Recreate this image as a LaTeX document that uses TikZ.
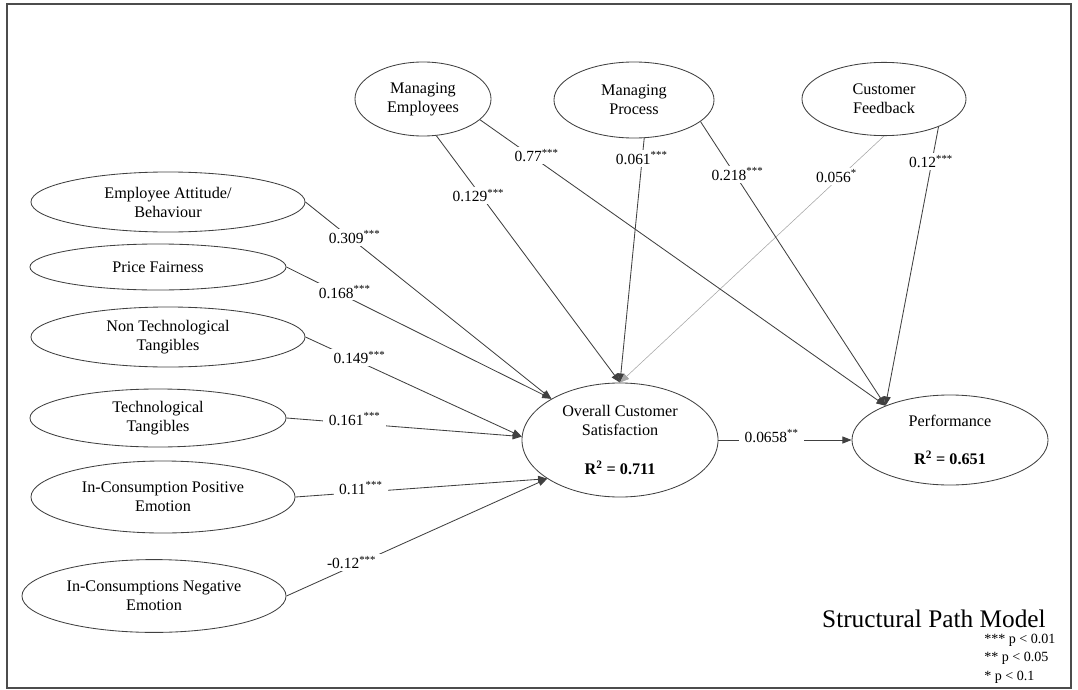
\documentclass[tikz,border=0pt]{standalone}
\usepackage{fontspec}
\setmainfont{Liberation Serif}
\usetikzlibrary{arrows.meta,shapes.geometric}

\begin{document}
\begin{tikzpicture}[
  x=0.025cm, y=-0.025cm,
  latent/.style={ellipse, draw=black!75, line width=0.6pt, inner sep=0pt,
    font=\fontsize{11.5}{13.5}\selectfont, align=center},
  coef/.style={fill=white, inner xsep=4pt, inner ysep=1.5pt, yshift=3pt,
    font=\fontsize{11}{13}\selectfont},
  effect/.style={-{Triangle[length=6.5pt,width=5pt]}, draw=black!75, line width=0.6pt},
  weak/.style={effect, draw=black!35, line width=0.4pt}
]
  \useasboundingbox (0,0) rectangle (1078,690);
  \draw[line width=0.8pt, black!70] (7,4) rectangle (1071,688);

  % Latent constructs
  \node[latent, minimum width=3.4cm, minimum height=1.85cm] (me) at (423,99) {Managing\\Employees};
  \node[latent, minimum width=4cm, minimum height=1.9cm] (mp) at (634,100) {Managing\\Process};
  \node[latent, minimum width=4.1cm, minimum height=1.83cm] (cf) at (884,99) {Customer\\Feedback};
  \node[latent, minimum width=6.85cm, minimum height=1.5cm] (ea) at (168,202) {Employee Attitude/\\Behaviour};
  \node[latent, minimum width=6.4cm, minimum height=1.15cm] (pf) at (158,267) {Price Fairness};
  \node[latent, minimum width=6.85cm, minimum height=1.5cm] (ntt) at (168,337) {Non Technological\\Tangibles};
  \node[latent, minimum width=6.4cm, minimum height=1.45cm] (tt) at (158,418) {Technological\\Tangibles};
  \node[latent, minimum width=6.6cm, minimum height=1.8cm] (ipe) at (163,497) {In-Consumption Positive\\Emotion};
  \node[latent, minimum width=6.6cm, minimum height=1.82cm] (ine) at (154,596) {In-Consumptions Negative\\Emotion};
  \node[latent, minimum width=4.9cm, minimum height=2.85cm] (ocs) at (620,440)
    {Overall Customer\\Satisfaction\\[14pt]\textbf{R\textsuperscript{2} = 0.711}};
  \node[latent, minimum width=4.9cm, minimum height=2.25cm] (perf) at (950,440)
    {Performance\\[13pt]\textbf{R\textsuperscript{2} = 0.651}};

  % Paths to satisfaction
  \draw[effect] (ea.east) -- node[coef, pos=0.2] {0.309\textsuperscript{***}} (ocs.149);
  \draw[effect] (pf.east) -- node[coef, pos=0.22] {0.168\textsuperscript{***}} (ocs.149);
  \draw[effect] (ntt.east) -- node[coef, pos=0.25] {0.149\textsuperscript{***}} (ocs.178);
  \draw[effect] (tt.east) -- node[coef, pos=0.29] {0.161\textsuperscript{***}} (ocs.178);
  \draw[effect] (ipe.east) -- node[coef, pos=0.26] {0.11\textsuperscript{***}} (ocs.208);
  \draw[effect] (ine.east) -- node[coef, pos=0.25] {-0.12\textsuperscript{***}} (ocs.208);
  \draw[effect] (me.-70) -- node[coef, pos=0.26, xshift=-4pt] {0.129\textsuperscript{***}} (ocs.north);
  \draw[effect] (mp.-75) -- node[coef, pos=0.1] {0.061\textsuperscript{***}} (ocs.north);
  \draw[weak] (cf.south) -- node[coef, pos=0.18] {0.056\textsuperscript{*}} (ocs.north);

  % Paths to performance
  \draw[effect] (me.-20) -- node[coef, pos=0.14] {0.77\textsuperscript{***}} (perf.152);
  \draw[effect] (mp.-18) -- node[coef, pos=0.2] {0.218\textsuperscript{***}} (perf.152);
  \draw[effect] (cf.-27) -- node[coef, pos=0.14] {0.12\textsuperscript{***}} (perf.152);
  \draw[effect] (ocs.east) -- node[coef, pos=0.4] {0.0658\textsuperscript{**}} (perf.west);

  % Legend
  \node[font=\fontsize{18}{20}\selectfont, anchor=base east, inner sep=0pt] (title) at (1046,627) {Structural Path Model};
  \node[font=\fontsize{10}{13}\selectfont, align=left, anchor=north west, inner sep=0pt] (sig) at (984,634)
    {*** p < 0.01\\** p < 0.05\\* p < 0.1};
\end{tikzpicture}
\end{document}
